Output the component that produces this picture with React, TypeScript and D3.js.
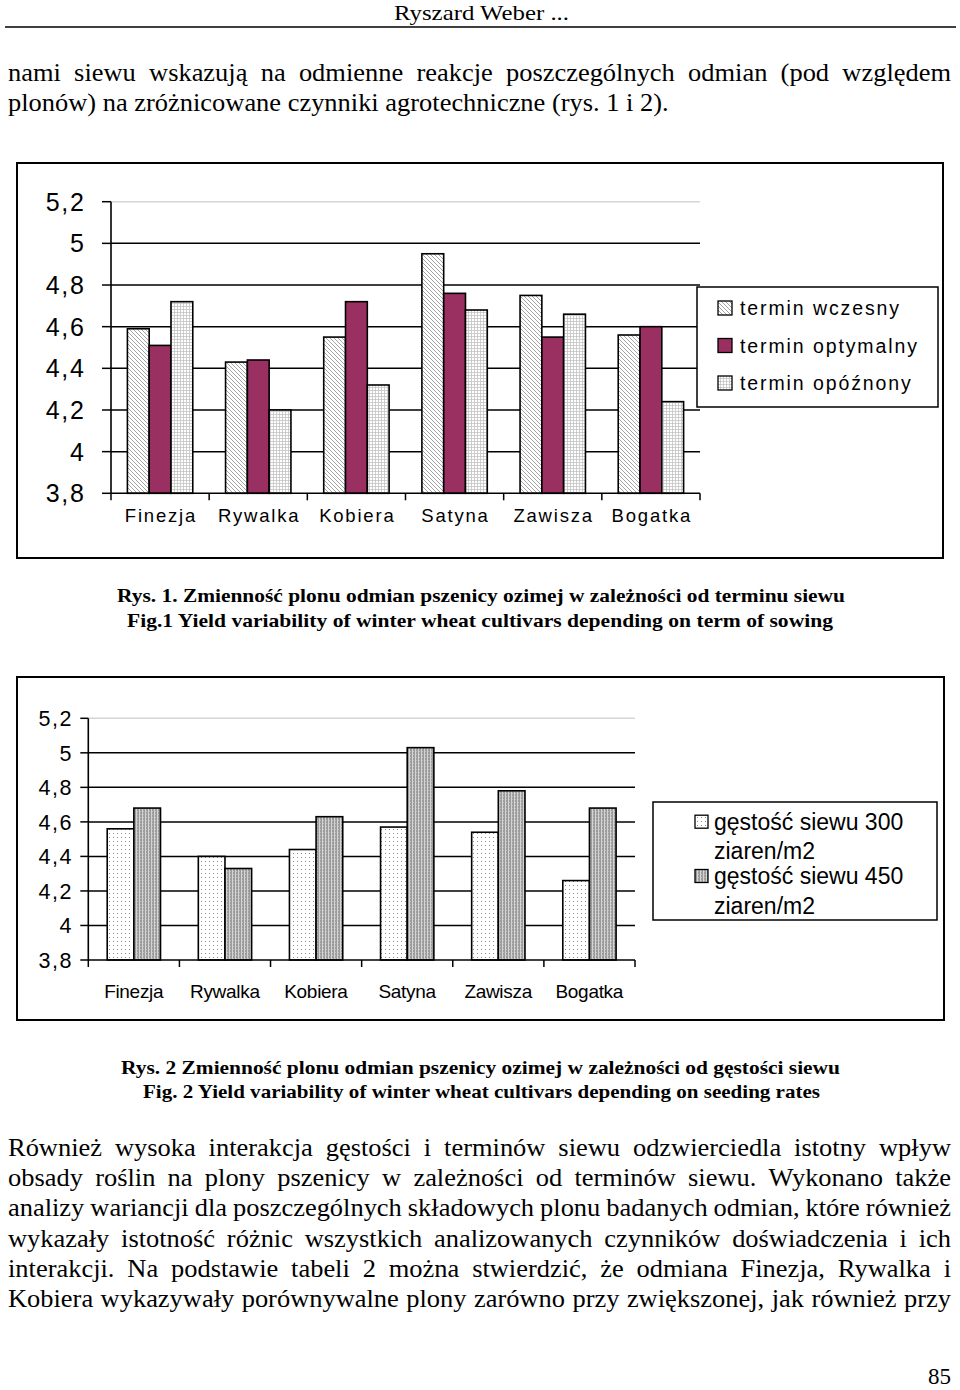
import React from "react";
import * as d3 from "d3";

const cultivars = ["Finezja", "Rywalka", "Kobiera", "Satyna", "Zawisza", "Bogatka"];
const termLabels = ["termin wczesny", "termin optymalny", "termin opóźnony"];
const termEarly = [4.59, 4.43, 4.55, 4.95, 4.75, 4.56];
const termOptimal = [4.51, 4.44, 4.72, 4.76, 4.55, 4.6];
const termLate = [4.72, 4.2, 4.32, 4.68, 4.66, 4.24];
const densityLabels = [
  ["gęstość siewu 300", "ziaren/m2"],
  ["gęstość siewu 450", "ziaren/m2"],
];
const density300 = [4.56, 4.4, 4.44, 4.57, 4.54, 4.26];
const density450 = [4.68, 4.33, 4.63, 5.03, 4.78, 4.68];
const yTicks = [3.8, 4, 4.2, 4.4, 4.6, 4.8, 5, 5.2];

const SERIF = '"Liberation Serif", "Times New Roman", serif';
const SANS = '"Liberation Sans", Arial, sans-serif';

const para1 = [
  "nami siewu wskazują na odmienne reakcje poszczególnych odmian (pod względem",
];
const para1Last = "plonów) na zróżnicowane czynniki agrotechniczne (rys. 1 i 2).";
const para2 = [
  "Również wysoka interakcja gęstości i terminów siewu odzwierciedla istotny wpływ",
  "obsady roślin na plony pszenicy w zależności od terminów siewu. Wykonano także",
  "analizy wariancji dla poszczególnych składowych plonu badanych odmian, które również",
  "wykazały istotność różnic wszystkich analizowanych czynników doświadczenia i ich",
  "interakcji. Na podstawie tabeli 2 można stwierdzić, że odmiana Finezja, Rywalka i",
  "Kobiera wykazywały porównywalne plony zarówno przy zwiększonej, jak również przy",
];

const BODY_SIZE = 24.5;
const BODY_FONT = `${BODY_SIZE}px "Liberation Serif"`;
const X0 = 8;
const X1 = 951;
const MIN_GAP = 6;

let ctx: CanvasRenderingContext2D | null = null;
function measure(text: string, font: string) {
  if (!ctx) ctx = document.createElement("canvas").getContext("2d");
  ctx!.font = font;
  return ctx!.measureText(text).width;
}

function hScale(): number {
  const all = [...para1, ...para2];
  let hs = 10;
  all.forEach((l) => {
    const words = l.split(" ");
    const total = d3.sum(words, (w) => measure(w, BODY_FONT));
    const s = (X1 - X0 - MIN_GAP * (words.length - 1)) / total;
    if (s < hs) hs = s;
  });
  return hs;
}

function Justified({ text, y, hs }: { text: string; y: number; hs: number }) {
  const words = text.split(" ");
  const widths = words.map((w) => measure(w, BODY_FONT) * hs);
  const total = d3.sum(widths);
  const gap = (X1 - X0 - total) / (words.length - 1);
  let cx = X0;
  const xs = widths.map((w) => {
    const p = cx;
    cx += w + gap;
    return p;
  });
  return (
    <g fontFamily={SERIF} fontSize={BODY_SIZE}>
      {words.map((w, i) => (
        <text key={i} x={xs[i]} y={y} textLength={widths[i]} lengthAdjust="spacingAndGlyphs">
          {w}
        </text>
      ))}
    </g>
  );
}

const fmt = (v: number) => String(+v.toFixed(1)).replace(".", ",");

type ChartCfg = {
  x0: number; x1: number; yTop: number; yBot: number;
  series: number[][]; fills: string[]; padFrac: number;
  tickLen: number; labelRight: number; tickFont: number; tickLs: number;
  catBaseline: number; catFont: number; catLs: number;
};

function BarChart(c: ChartCfg) {
  const x = d3.scaleBand<string>().domain(cultivars).range([c.x0, c.x1]).padding(0);
  const bw = x.bandwidth();
  const inner = d3
    .scaleBand<number>()
    .domain(c.series.map((_, i) => i))
    .range([bw * c.padFrac, bw * (1 - c.padFrac)])
    .padding(0);
  const y = d3.scaleLinear().domain([3.8, 5.2]).range([c.yBot, c.yTop]);
  const boundaries = cultivars.map((k) => x(k)!).concat([c.x1]);
  return (
    <g>
      {yTicks.slice(1).map((t, i) => (
        <line key={i} x1={c.x0} x2={c.x1} y1={y(t)} y2={y(t)} stroke={t === 5.2 ? "#d6d6d6" : "#000"} strokeWidth={1.5} />
      ))}
      {c.series.map((vals, si) =>
        vals.map((v, ci) => (
          <rect
            key={`${si}-${ci}`}
            x={x(cultivars[ci])! + inner(si)!}
            y={y(v)}
            width={inner.bandwidth()}
            height={y(3.8) - y(v)}
            fill={c.fills[si]}
            stroke="#000"
            strokeWidth={1.6}
          />
        ))
      )}
      <line x1={c.x0} x2={c.x0} y1={c.yTop} y2={c.yBot} stroke="#000" strokeWidth={1.6} />
      <line x1={c.x0} x2={c.x1} y1={c.yBot} y2={c.yBot} stroke="#000" strokeWidth={1.6} />
      {yTicks.map((t, i) => (
        <g key={i}>
          <line x1={c.x0 - c.tickLen} x2={c.x0} y1={y(t)} y2={y(t)} stroke="#000" strokeWidth={1.5} />
          <text
            x={c.labelRight + c.tickLs}
            y={y(t)}
            dy="0.36em"
            textAnchor="end"
            fontFamily={SANS}
            fontSize={c.tickFont}
            letterSpacing={c.tickLs}
          >
            {fmt(t)}
          </text>
        </g>
      ))}
      {boundaries.map((b, i) => (
        <line key={i} x1={b} x2={b} y1={c.yBot} y2={c.yBot + 7} stroke="#000" strokeWidth={1.5} />
      ))}
      {cultivars.map((k) => (
        <text
          key={k}
          x={x(k)! + bw / 2 + c.catLs / 2}
          y={c.catBaseline}
          textAnchor="middle"
          fontFamily={SANS}
          fontSize={c.catFont}
          letterSpacing={c.catLs}
        >
          {k}
        </text>
      ))}
    </g>
  );
}

export default function App() {
  const MAROON = "#9a2f62";
  const hs = hScale();
  const lastW = measure(para1Last, BODY_FONT) * hs;
  return (
    <svg width={960} height={1390} style={{ position: "absolute", left: 0, top: 0, background: "#fff" }}>
      <defs>
        <pattern id="pEarly" width={4} height={4} patternUnits="userSpaceOnUse">
          <rect width={4} height={4} fill="#fff" />
          <path d="M0,0L4,4M-1,3L1,5M3,-1L5,1" stroke="#9a9a9a" strokeWidth={0.9} />
        </pattern>
        <pattern id="pLate" width={3} height={3} patternUnits="userSpaceOnUse">
          <rect width={3} height={3} fill="#fff" />
          <rect width={0.8} height={3} fill="#c4c4c4" />
          <rect width={3} height={0.8} fill="#c4c4c4" />
        </pattern>
        <pattern id="p300" width={4} height={4} patternUnits="userSpaceOnUse">
          <rect width={4} height={4} fill="#fff" />
          <rect x={1} y={1} width={1} height={1} fill="#8a8a8a" />
        </pattern>
        <pattern id="p450" width={3} height={3} patternUnits="userSpaceOnUse">
          <rect width={3} height={3} fill="#9c9c9c" />
          <rect x={1} width={1} height={3} fill="#d4d4d4" />
          <rect x={2} y={1} width={1} height={1} fill="#bdbdbd" />
        </pattern>
      </defs>

      {/* header */}
      <text x={394} y={20} fontFamily={SERIF} fontSize={21} textLength={175} lengthAdjust="spacingAndGlyphs">
        Ryszard Weber ...
      </text>
      <line x1={5} x2={956} y1={27} y2={27} stroke="#000" strokeWidth={1.3} />

      {para1.map((l, i) => (
        <Justified key={i} text={l} y={81 + i * 30} hs={hs} />
      ))}
      <text x={X0} y={111} fontFamily={SERIF} fontSize={BODY_SIZE} textLength={lastW} lengthAdjust="spacingAndGlyphs">
        {para1Last}
      </text>

      {/* chart 1 */}
      <rect x={17} y={163} width={926} height={395} fill="none" stroke="#000" strokeWidth={2} />
      <BarChart
        x0={111}
        x1={700}
        yTop={201.7}
        yBot={493.3}
        series={[termEarly, termOptimal, termLate]}
        fills={["url(#pEarly)", MAROON, "url(#pLate)"]}
        padFrac={0.167}
        tickLen={9}
        labelRight={84}
        tickFont={25}
        tickLs={1.8}
        catBaseline={522}
        catFont={18.5}
        catLs={1.8}
      />
      <rect x={697} y={287} width={241} height={120} fill="#fff" stroke="#000" strokeWidth={1.5} />
      {termLabels.map((l, i) => {
        const cy = 308 + i * 37.5;
        return (
          <g key={l}>
            <rect x={718} y={cy - 7} width={14} height={14} fill={["url(#pEarly)", MAROON, "url(#pLate)"][i]} stroke="#000" strokeWidth={1.3} />
            <text x={740} y={cy} dy="0.36em" fontFamily={SANS} fontSize={19.5} letterSpacing={1.9}>
              {l}
            </text>
          </g>
        );
      })}

      <text x={117} y={602} fontFamily={SERIF} fontWeight="bold" fontSize={19} textLength={728} lengthAdjust="spacingAndGlyphs">
        Rys. 1. Zmienność plonu odmian pszenicy ozimej w zależności od terminu siewu
      </text>
      <text x={127} y={627} fontFamily={SERIF} fontWeight="bold" fontSize={19} textLength={706} lengthAdjust="spacingAndGlyphs">
        Fig.1 Yield variability of winter wheat cultivars depending on term of sowing
      </text>

      {/* chart 2 */}
      <rect x={17} y={677} width={927} height={343} fill="none" stroke="#000" strokeWidth={2} />
      <BarChart
        x0={88.3}
        x1={635}
        yTop={718.3}
        yBot={960}
        series={[density300, density450]}
        fills={["url(#p300)", "url(#p450)"]}
        padFrac={0.2075}
        tickLen={8}
        labelRight={71.5}
        tickFont={21.5}
        tickLs={1.5}
        catBaseline={998}
        catFont={19}
        catLs={-0.3}
      />
      <rect x={653} y={802} width={284} height={118} fill="#fff" stroke="#000" strokeWidth={1.5} />
      {densityLabels.map((lines, i) => {
        const cy = 821.7 + i * 54.3;
        return (
          <g key={i}>
            <rect x={695} y={cy - 6.5} width={13} height={13} fill={["url(#p300)", "url(#p450)"][i]} stroke="#000" strokeWidth={1.3} />
            <text x={714} y={cy} dy="0.36em" fontFamily={SANS} fontSize={23}>
              {lines[0]}
            </text>
            <text x={714} y={cy + 29.5} dy="0.36em" fontFamily={SANS} fontSize={23}>
              {lines[1]}
            </text>
          </g>
        );
      })}

      <text x={121} y={1074} fontFamily={SERIF} fontWeight="bold" fontSize={19} textLength={719} lengthAdjust="spacingAndGlyphs">
        Rys. 2 Zmienność plonu odmian pszenicy ozimej w zależności od gęstości siewu
      </text>
      <text x={143} y={1098} fontFamily={SERIF} fontWeight="bold" fontSize={19} textLength={677} lengthAdjust="spacingAndGlyphs">
        Fig. 2 Yield variability of winter wheat cultivars depending on seeding rates
      </text>

      {para2.map((l, i) => (
        <Justified key={i} text={l} y={1156 + i * 30.2} hs={hs} />
      ))}

      <text x={951} y={1384} textAnchor="end" fontFamily={SERIF} fontSize={23}>
        85
      </text>
    </svg>
  );
}
